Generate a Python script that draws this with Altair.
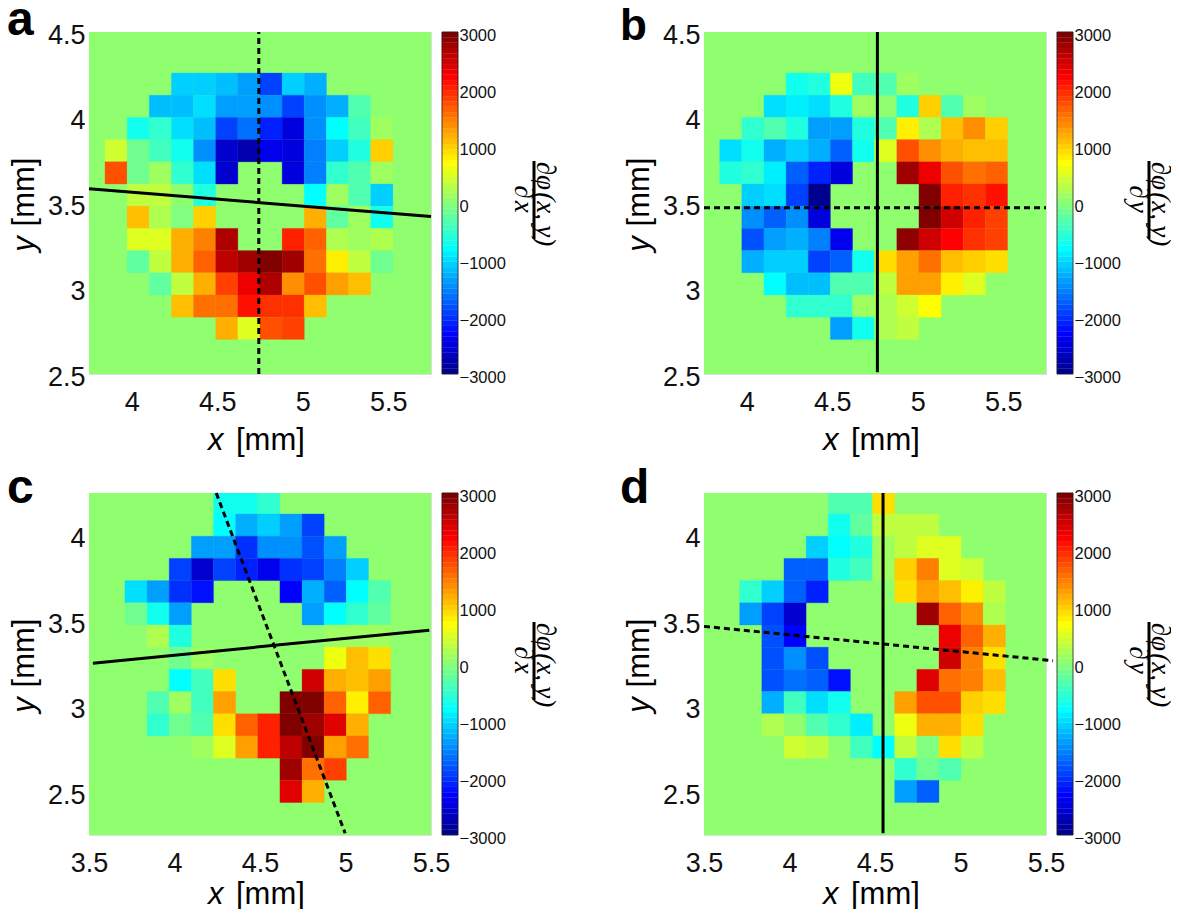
import altair as alt
import pandas as pd

_ = 0
A_ROWS = [
 [_,_,_,-1050,-1050,-1150,-1400,-1900,-1050,-1250,_,_,_],
 [_,_,-1150,-1150,-950,-1350,-1350,-1500,-1950,-1500,-1250,-350,_],
 [_,-700,-550,-1000,-1200,-1900,-1600,-2150,-2500,-1500,-800,-400,150],
 [400,-100,-400,-700,-1450,-2550,-2800,-2400,-2500,-1550,-1050,-600,950],
 [1750,-100,100,-550,-950,-2550,_,_,-2500,-1550,-500,-350,150],
 [_,300,300,50,-650,_,_,_,_,-800,150,-350,-1100],
 [_,1100,200,-50,950,_,_,_,_,1150,-250,150,-700],
 [_,550,550,1150,1450,2650,_,_,2000,1650,200,150,250],
 [_,-250,350,1150,1650,2600,2800,3000,2750,1550,800,350,-100],
 [_,_,-250,300,1150,1800,2250,2650,1400,1700,1250,1050,_],
 [_,_,_,1100,1500,1550,2150,1950,1950,1050,_,_,_],
 [_,_,_,_,_,1150,550,1700,1850,_,_,_,_],
]
B_ROWS = [
 [_,_,_,-750,-600,600,-400,-300,150,_,_,_,_],
 [_,_,-950,-850,-1000,-650,150,_,-650,1000,-350,150,_],
 [_,-500,-300,-650,-1400,-1400,-650,-350,800,200,1100,1350,950],
 [-1000,-700,-1300,-1100,-1250,-1750,-750,550,1750,1400,1150,1050,1050],
 [-650,-550,-900,-1700,-2150,-2450,_,_,2800,2250,1750,1500,1600],
 [_,-1100,-950,-1950,-3000,_,_,_,_,3000,2050,1950,2150],
 [_,-1500,-1700,-1500,-2500,_,_,_,_,3000,2500,2050,1850],
 [_,-1800,-1350,-1250,-1550,-2400,_,_,2850,2500,2200,1950,1850],
 [_,-1300,-1050,-1050,-1900,-1750,-750,900,1300,1550,1100,950,850],
 [_,_,-800,-1150,-1150,-350,-350,300,1250,1250,800,500,_],
 [_,_,_,-550,-550,-550,150,200,450,700,_,_,_],
 [_,_,_,_,_,-1350,-700,250,350,_,_,_,_],
]
C_ROWS = [
 [_,_,_,_,-750,-750,-550,_,_,_,_,_],
 [_,_,_,_,-800,-1300,-1050,-1400,-1950,_,_,_],
 [_,_,_,-1350,-1350,-2050,-1450,-1450,-1850,-1350,_,_],
 [_,_,-1950,-2600,-1900,-2150,-2350,-2000,-1900,-1550,-1100,_],
 [-950,-1350,-2050,-2250,_,_,_,-2300,-1250,-1700,-800,-350],
 [-100,-750,-1400,_,_,_,_,_,-1350,-800,-500,-250],
 [_,200,-650,_,_,_,_,_,_,100,100,100],
 [_,_,-100,150,_,_,_,_,_,600,1100,900],
 [_,_,-800,-400,900,_,_,_,2500,1150,1050,1300],
 [_,-300,150,-450,1250,_,_,2950,2950,1600,750,1600],
 [_,-550,-150,-350,900,1650,2000,2950,2800,2400,1200,_],
 [_,_,_,150,550,1300,2000,2550,2950,1300,1500,_],
 [_,_,_,_,_,_,_,2750,1500,1850,_,_],
 [_,_,_,_,_,_,_,2350,1200,_,_,_],
]
D_ROWS = [
 [_,_,_,_,-350,-300,850,_,_,_,_,_],
 [_,_,_,_,-750,-250,350,350,350,_,_,_],
 [_,_,_,-1050,-800,-600,100,350,550,550,_,_],
 [_,_,-1700,-1700,-650,-450,100,1000,1450,550,400,_],
 [-550,-1050,-1700,-2100,_,_,_,850,1300,1050,750,300],
 [-1350,-1900,-2550,_,_,_,_,_,2750,1650,1350,200],
 [_,-1850,-2300,_,_,_,_,_,_,2250,1600,1150],
 [_,-1850,-1500,-1850,_,_,_,_,_,2500,1450,850],
 [_,-1850,-1600,-1750,-2250,_,_,_,2400,1500,1450,1100],
 [_,-1250,-450,-1000,-750,_,_,1250,1750,1750,950,850],
 [_,200,_,-300,-550,-900,_,600,1200,1150,850,_],
 [_,_,400,300,_,-400,-800,300,-50,900,350,_],
 [_,_,_,_,_,_,_,-550,-100,-300,_,_],
 [_,_,_,_,_,_,_,-1350,-1700,_,_,_],
]

AB_XTICKS = [4, 4.5, 5, 5.5]
AB_YTICKS = [2.5, 3, 3.5, 4, 4.5]
CD_XTICKS = [3.5, 4, 4.5, 5, 5.5]
CD_YTICKS = [2.5, 3, 3.5, 4]
CBAR_TICKS = [-3000, -2000, -1000, 0, 1000, 2000, 3000]
CELL_X = 0.1295
CELL_Y = 0.1298


def jet(n=64):
    out = []
    for i in range(n):
        t = (i + 1) / n
        r = min(max(min(4 * t - 1.5, -4 * t + 4.5), 0), 1)
        g = min(max(min(4 * t - 0.5, -4 * t + 3.5), 0), 1)
        b = min(max(min(4 * t + 0.5, -4 * t + 2.5), 0), 1)
        out.append("#%02x%02x%02x" % (round(r * 255), round(g * 255), round(b * 255)))
    return out


JET = jet()
CSCALE = alt.Scale(type="quantize", domain=[-3000, 3000], range=JET, nice=False)
SANS = "Liberation Sans"
SERIF = "Liberation Serif"
BLANK = alt.Data(values=[{}])


def text(t, x, y, size=27, font=SANS, style="normal", weight="normal", angle=0, align="left", baseline="alphabetic"):
    return alt.Chart(BLANK).mark_text(
        font=font, fontSize=size, fontStyle=style, fontWeight=weight, angle=angle,
        align=align, baseline=baseline, color="black",
    ).encode(text=alt.value(t), x=alt.value(x), y=alt.value(y))


def panel(letter, rows, x0, ytop, xdom, ydom, xticks, yticks, lines, denom, letter_x, letter_y, title_y, letter_size=48):
    recs = []
    for i, row in enumerate(rows):
        for j, v in enumerate(row):
            if v != 0:
                recs.append(dict(x=x0 + j * CELL_X, x2=x0 + (j + 1) * CELL_X,
                                 y=ytop - i * CELL_Y, y2=ytop - (i + 1) * CELL_Y, v=v))
    cells = pd.DataFrame(recs)
    bg = pd.DataFrame([dict(x=xdom[0], x2=xdom[1], y=ydom[0], y2=ydom[1], v=0)])
    xs = alt.X("x:Q", scale=alt.Scale(domain=xdom, nice=False, zero=False), title=None,
               axis=alt.Axis(values=xticks, format="~g", grid=False, domain=False, ticks=False, labelFlush=False,
                             labelFontSize=27, labelPadding=15, labelFont=SANS, labelColor="#111"))
    ys = alt.Y("y:Q", scale=alt.Scale(domain=ydom, nice=False, zero=False), title=None,
               axis=alt.Axis(values=yticks, format="~g", grid=False, domain=False, ticks=False, labelFlush=False,
                             labelOffset=3, labelFontSize=27, labelPadding=4, labelFont=SANS, labelColor="#111"))
    col = alt.Color("v:Q", scale=CSCALE, legend=None)
    stk = alt.Stroke("v:Q", scale=CSCALE, legend=None)
    layers = [
        alt.Chart(bg).mark_rect(clip=True).encode(x=xs, x2="x2:Q", y=ys, y2="y2:Q", color=col),
        alt.Chart(cells).mark_rect(clip=True, strokeWidth=0.3).encode(x=xs, x2="x2:Q", y=ys, y2="y2:Q", color=col, stroke=stk),
    ]
    for (lx, ly, dashed) in lines:
        df = pd.DataFrame(dict(x=lx, y=ly))
        kw = dict(strokeDash=[6, 4], strokeWidth=3) if dashed else dict(strokeWidth=3)
        layers.append(alt.Chart(df).mark_line(color="black", **kw).encode(x=xs, y=ys))
    layers += [
        text(letter, letter_x, letter_y, size=letter_size, weight="bold"),
        text("x", 119, title_y, size=31, style="italic"),
        text("[mm]", 147, title_y, size=31),
        text("y", -64.5, 212, size=31, style="italic", angle=270, align="center", baseline="middle"),
        text("[mm]", -64.5, 160, size=31, angle=270, align="center", baseline="middle"),
        text("\u2202\u03c6\u200a(x,\u2009y)", 456, 172, size=27, font=SERIF, style="italic", angle=90, align="center", baseline="middle"),
        text("\u2202\u200a" + denom, 434, 167, size=27, font=SERIF, style="italic", angle=90, align="center", baseline="middle"),
        alt.Chart(BLANK).mark_rule(color="black", strokeWidth=3).encode(
            x=alt.value(445), y=alt.value(129), y2=alt.value(207)),
    ]
    main = alt.layer(*layers)
    lev = [-3000 + i * 93.75 for i in range(64)]
    band = pd.DataFrame(dict(lo=lev, hi=[v + 93.75 for v in lev], v=lev))
    cy = alt.Y("lo:Q", scale=alt.Scale(domain=[-3000, 3000], nice=False, zero=False), title=None,
               axis=alt.Axis(orient="right", offset=27, values=CBAR_TICKS, grid=False, domain=False, ticks=False,
                             labelFlush=False, labelFontSize=16.5, labelPadding=1, labelOffset=3, labelFont=SANS,
                             labelColor="#111", format="d"))
    cbar = alt.Chart(band).mark_rect(strokeWidth=0.3).encode(
        x=alt.value(353), x2=alt.value(369), y=cy, y2="hi:Q", color=col, stroke=stk)
    frame = alt.Chart(BLANK).mark_rect(fill=None, stroke="#222", strokeWidth=0.8).encode(
        x=alt.value(353), x2=alt.value(369), y=alt.value(0), y2=alt.value(342))
    side = alt.layer(cbar, frame)
    return alt.layer(main, side).resolve_scale(y="independent").properties(width=342, height=342)


a = panel("a", A_ROWS, 3.8435, 4.26, [3.75, 5.75], [2.5, 4.5], AB_XTICKS, AB_YTICKS,
          [([4.743, 4.743], [2.5, 4.5], True), ([3.75, 5.75], [3.583, 3.421], False)], "x", -82, 3, 418)
b = panel("b", B_ROWS, 3.8416, 4.26, [3.75, 5.75], [2.5, 4.5], AB_XTICKS, AB_YTICKS,
          [([4.764, 4.764], [2.51, 4.5], False), ([3.75, 5.75], [3.472, 3.472], True)], "y", -84, 8, 418, letter_size=44)
c = panel("c", C_ROWS, 3.71, 4.257, [3.5, 5.5], [2.25, 4.25], CD_XTICKS, CD_YTICKS,
          [([4.244, 4.998], [4.25, 2.26], True), ([3.523, 5.49], [3.255, 3.448], False)], "x", -82, 10, 411)
d = panel("d", D_ROWS, 3.7086, 4.257, [3.5, 5.5], [2.25, 4.25], CD_XTICKS, CD_YTICKS,
          [([4.547, 4.547], [2.26, 4.25], False), ([3.5, 5.541], [3.47, 3.269], True)], "y", -84, 10, 411)

chart = alt.concat(a, b, c, d, columns=2, spacing={"row": 7, "column": 59}).properties(
    padding={"top": -12, "left": -2, "right": -4, "bottom": -2}).configure_view(
    stroke=None).configure(font=SANS)

chart.save("out.html", embed_options={"renderer": "svg", "actions": False})
